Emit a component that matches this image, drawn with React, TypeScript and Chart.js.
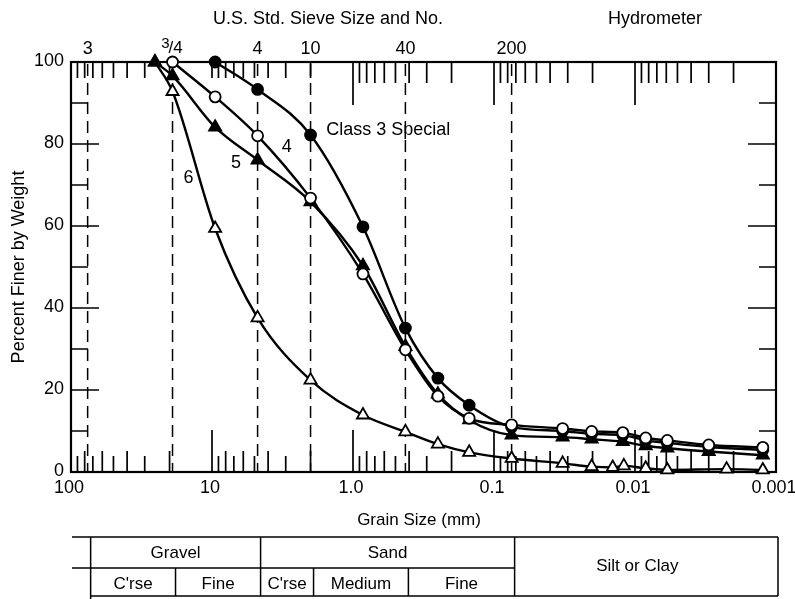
import React, { useEffect, useRef } from "react";
import { Chart, registerables } from "chart.js";

Chart.register(...registerables);

const FONT = '"Liberation Sans", Arial, Helvetica, sans-serif';

// Sieve sizes (mm) and their US standard sieve labels (top axis)
const sieveLabels = ["3", "3/4", "4", "10", "40", "200"];
const sieveSizes = [76.2, 19.05, 4.75, 2.0, 0.425, 0.075];

// Bottom axis decade labels
const xTickValues = [100, 10, 1, 0.1, 0.01, 0.001];
const xTickLabels = ["100", "10", "1.0", "0.1", "0.01", "0.001"];
const yTickValues = [0, 20, 40, 60, 80, 100];
const yMinorValues = [10, 20, 30, 40, 50, 60, 70, 80, 90];
const logMultipliers = [2, 3, 4, 5, 6, 7, 8, 9];
const logExponents = [-3, -2, -1, 0, 1];

// Class 3 Special (filled circles)
const class3Sizes = [9.5, 4.75, 2.0, 0.85, 0.425, 0.25, 0.15, 0.075, 0.0326, 0.0203, 0.0122, 0.0084, 0.0059, 0.003, 0.00124];
const class3Values = [100, 93.3, 82.2, 59.8, 35.1, 22.9, 16.3, 11.0, 10.0, 9.3, 9.0, 7.7, 7.1, 6.1, 5.4];

// Curve 4 (open circles)
const curve4Sizes = [19.05, 9.5, 4.75, 2.0, 0.85, 0.425, 0.25, 0.15, 0.075, 0.0326, 0.0203, 0.0122, 0.0084, 0.0059, 0.003, 0.00124];
const curve4Values = [100, 91.5, 82.0, 66.8, 48.3, 29.8, 18.5, 13.1, 11.5, 10.6, 9.9, 9.6, 8.3, 7.7, 6.6, 6.0];

// Curve 5 (filled triangles)
const curve5Sizes = [25.4, 19.05, 9.5, 4.75, 2.0, 0.85, 0.425, 0.25, 0.15, 0.075, 0.0326, 0.0203, 0.0122, 0.0084, 0.0059, 0.003, 0.00124];
const curve5Values = [100, 96.6, 84.1, 76.1, 65.9, 50.3, 30.6, 19.0, 12.7, 9.0, 8.5, 8.0, 7.4, 6.4, 5.8, 5.0, 4.1];

// Curve 6 (open triangles)
const curve6Sizes = [25.4, 19.05, 9.5, 4.75, 2.0, 0.85, 0.425, 0.25, 0.15, 0.075, 0.0326, 0.0203, 0.0144, 0.012, 0.0084, 0.0059, 0.00224, 0.00124];
const curve6Values = [100, 92.8, 59.4, 37.6, 22.4, 13.9, 9.8, 6.8, 4.8, 3.3, 2.1, 1.3, 1.1, 1.5, 0.9, 0.5, 0.7, 0.5];

// Curve annotations anchored in data space
const curveNames = ["Class 3 Special", "4", "5", "6"];
const curveNameSizes = [1.55, 2.95, 6.76, 14.7];
const curveNameValues = [83.4, 79.3, 75.3, 71.6];
const curveNameAlign = ["left", "center", "center", "center"];

// Classification table
const tableTop = ["Gravel", "Sand"];
const tableBottom = ["C'rse", "Fine", "C'rse", "Medium", "Fine"];
const tableRight = "Silt or Clay";

const overlay = {
  id: "overlay",
  beforeDatasetsDraw(chart: any) {
    const { ctx, chartArea: a, scales } = chart;
    const x = scales.x;
    const y = scales.y;
    ctx.save();
    ctx.strokeStyle = "#000";

    // dashed sieve lines
    ctx.lineWidth = 1.5;
    ctx.setLineDash([12, 7]);
    for (const s of sieveSizes) {
      const px = x.getPixelForValue(s);
      ctx.beginPath();
      ctx.moveTo(px, a.top + 2);
      ctx.lineTo(px, a.bottom);
      ctx.stroke();
    }
    ctx.setLineDash([]);

    // log ticks (inward) on bottom and top
    ctx.lineWidth = 1.7;
    for (const e of logExponents) {
      for (const m of logMultipliers) {
        const v = m * Math.pow(10, e);
        if (v > 100 || v < 0.001) continue;
        const px = x.getPixelForValue(v);
        const hb = m % 2 === 0 ? 21 : 16;
        const ht = v > 1 ? 16 : 21;
        ctx.beginPath();
        ctx.moveTo(px, a.bottom);
        ctx.lineTo(px, a.bottom - hb);
        ctx.moveTo(px, a.top);
        ctx.lineTo(px, a.top + ht);
        ctx.stroke();
      }
    }
    for (const v of [10, 1, 0.1, 0.01]) {
      const px = x.getPixelForValue(v);
      ctx.beginPath();
      ctx.moveTo(px, a.bottom);
      ctx.lineTo(px, a.bottom - 42);
      ctx.moveTo(px, a.top);
      ctx.lineTo(px, a.top + (v >= 10 ? 16 : 43));
      ctx.stroke();
    }

    // percent ticks (inward) on left and right
    for (const v of yMinorValues) {
      const py = y.getPixelForValue(v);
      const len = v % 20 === 0 ? 28 : 17;
      ctx.beginPath();
      ctx.moveTo(a.left, py);
      ctx.lineTo(a.left + len, py);
      ctx.moveTo(a.right, py);
      ctx.lineTo(a.right - len, py);
      ctx.stroke();
    }

    // frame
    ctx.lineWidth = 2.2;
    ctx.strokeRect(a.left, a.top, a.right - a.left, a.bottom - a.top);
    ctx.restore();
  },
  afterDraw(chart: any) {
    const { ctx, chartArea: a, scales } = chart;
    const x = scales.x;
    const y = scales.y;
    ctx.save();
    ctx.fillStyle = "#000";
    ctx.strokeStyle = "#000";
    ctx.font = `18px ${FONT}`;

    // y tick labels
    ctx.textAlign = "right";
    ctx.textBaseline = "middle";
    yTickValues.forEach((v) => {
      ctx.fillText(String(v), a.left - 7, y.getPixelForValue(v) - 1);
    });

    // x tick labels
    ctx.textAlign = "center";
    xTickValues.forEach((v, i) => {
      ctx.fillText(xTickLabels[i], x.getPixelForValue(v) - 2, a.bottom + 16);
    });

    // sieve labels on top
    sieveLabels.forEach((lab, i) => {
      const px = x.getPixelForValue(sieveSizes[i]);
      if (lab === "3/4") {
        ctx.font = `15px ${FONT}`;
        ctx.textAlign = "right";
        ctx.fillText("3", px - 3, a.top - 18);
        ctx.font = `17px ${FONT}`;
        ctx.textAlign = "left";
        ctx.fillText("/4", px - 4, a.top - 14);
        ctx.font = `18px ${FONT}`;
        ctx.textAlign = "center";
      } else {
        ctx.fillText(lab, px, a.top - 13);
      }
    });

    // titles
    ctx.fillText("U.S. Std. Sieve Size and No.", 328, 19);
    ctx.fillText("Hydrometer", 655, 19);
    ctx.font = `17px ${FONT}`;
    ctx.fillText("Grain Size (mm)", 419, 520);
    ctx.save();
    ctx.translate(19, 267);
    ctx.rotate(-Math.PI / 2);
    ctx.font = `18px ${FONT}`;
    ctx.fillText("Percent Finer by Weight", 0, 0);
    ctx.restore();

    // curve names
    ctx.font = `18px ${FONT}`;
    curveNames.forEach((n, i) => {
      ctx.textAlign = curveNameAlign[i] as CanvasTextAlign;
      ctx.fillText(n, x.getPixelForValue(curveNameSizes[i]), y.getPixelForValue(curveNameValues[i]));
    });

    // classification table
    const col = (s: number) => x.getPixelForValue(s) + 3;
    const c0 = a.left + 1;
    const c1 = col(sieveSizes[0]);
    const c2 = col(sieveSizes[1]);
    const c3 = col(sieveSizes[2]);
    const c4 = col(sieveSizes[3]);
    const c5 = col(sieveSizes[4]);
    const c6 = col(sieveSizes[5]);
    const c7 = a.right + 2;
    const r0 = 537;
    const r1 = 568;
    const r2 = 596;
    ctx.lineWidth = 1.5;
    ctx.beginPath();
    ctx.moveTo(c0, r0); ctx.lineTo(c7, r0);
    ctx.moveTo(c0, r1); ctx.lineTo(c6, r1);
    ctx.moveTo(c1, r2); ctx.lineTo(c7, r2);
    ctx.moveTo(c1, r0); ctx.lineTo(c1, 599);
    ctx.moveTo(c3, r0); ctx.lineTo(c3, r2);
    ctx.moveTo(c6, r0); ctx.lineTo(c6, r2);
    ctx.moveTo(c7, r0); ctx.lineTo(c7, r2);
    ctx.moveTo(c2, r1); ctx.lineTo(c2, r2);
    ctx.moveTo(c4, r1); ctx.lineTo(c4, r2);
    ctx.moveTo(c5, r1); ctx.lineTo(c5, r2);
    ctx.stroke();

    ctx.font = `17px ${FONT}`;
    ctx.textAlign = "center";
    ctx.fillText(tableTop[0], (c1 + c3) / 2, (r0 + r1) / 2 + 1);
    ctx.fillText(tableTop[1], (c3 + c6) / 2, (r0 + r1) / 2 + 1);
    const bottomCols = [[c1, c2], [c2, c3], [c3, c4], [c4, c5], [c5, c6]];
    tableBottom.forEach((t, i) => {
      const [l, r] = bottomCols[i];
      ctx.fillText(t, (l + r) / 2, (r1 + r2) / 2 + 2);
    });
    ctx.fillText(tableRight, (c6 + c7) / 2 - 9, (r0 + r2) / 2);
    ctx.restore();
  },
};

function makeSet(label: string, sizes: number[], values: number[], style: string, fill: string, radius: number) {
  return {
    label,
    data: sizes.map((s, i) => ({ x: s, y: values[i] })),
    borderColor: "#000",
    borderWidth: 2.4,
    pointStyle: style,
    pointRadius: radius,
    pointBorderWidth: 1.8,
    pointBackgroundColor: fill,
    pointBorderColor: "#000",
    cubicInterpolationMode: "monotone",
    fill: false,
    clip: false,
  };
}

export default function App() {
  const ref = useRef<HTMLCanvasElement>(null);
  useEffect(() => {
    const canvas = ref.current;
    if (!canvas) return;
    const chart = new Chart(canvas, {
      type: "line",
      data: {
        datasets: [
          makeSet("4", curve4Sizes, curve4Values, "circle", "#fff", 5.5),
          makeSet("Class 3 Special", class3Sizes, class3Values, "circle", "#000", 5.5),
          makeSet("5", curve5Sizes, curve5Values, "triangle", "#000", 7),
          makeSet("6", curve6Sizes, curve6Values, "triangle", "#fff", 7),
        ] as any,
      },
      options: {
        responsive: false,
        maintainAspectRatio: false,
        animation: false,
        events: [],
        layout: { padding: { left: 71, top: 62, right: 19, bottom: 127 } },
        scales: {
          x: { type: "logarithmic", reverse: true, min: 0.001, max: 100, display: false },
          y: { type: "linear", min: 0, max: 100, display: false },
        },
        plugins: { legend: { display: false }, tooltip: { enabled: false } },
      } as any,
      plugins: [overlay],
    });
    return () => chart.destroy();
  }, []);
  return (
    <div style={{ position: "absolute", left: 0, top: 0, width: 795, height: 599, background: "#fff" }}>
      <canvas ref={ref} width={795} height={599} style={{ display: "block" }} />
    </div>
  );
}
